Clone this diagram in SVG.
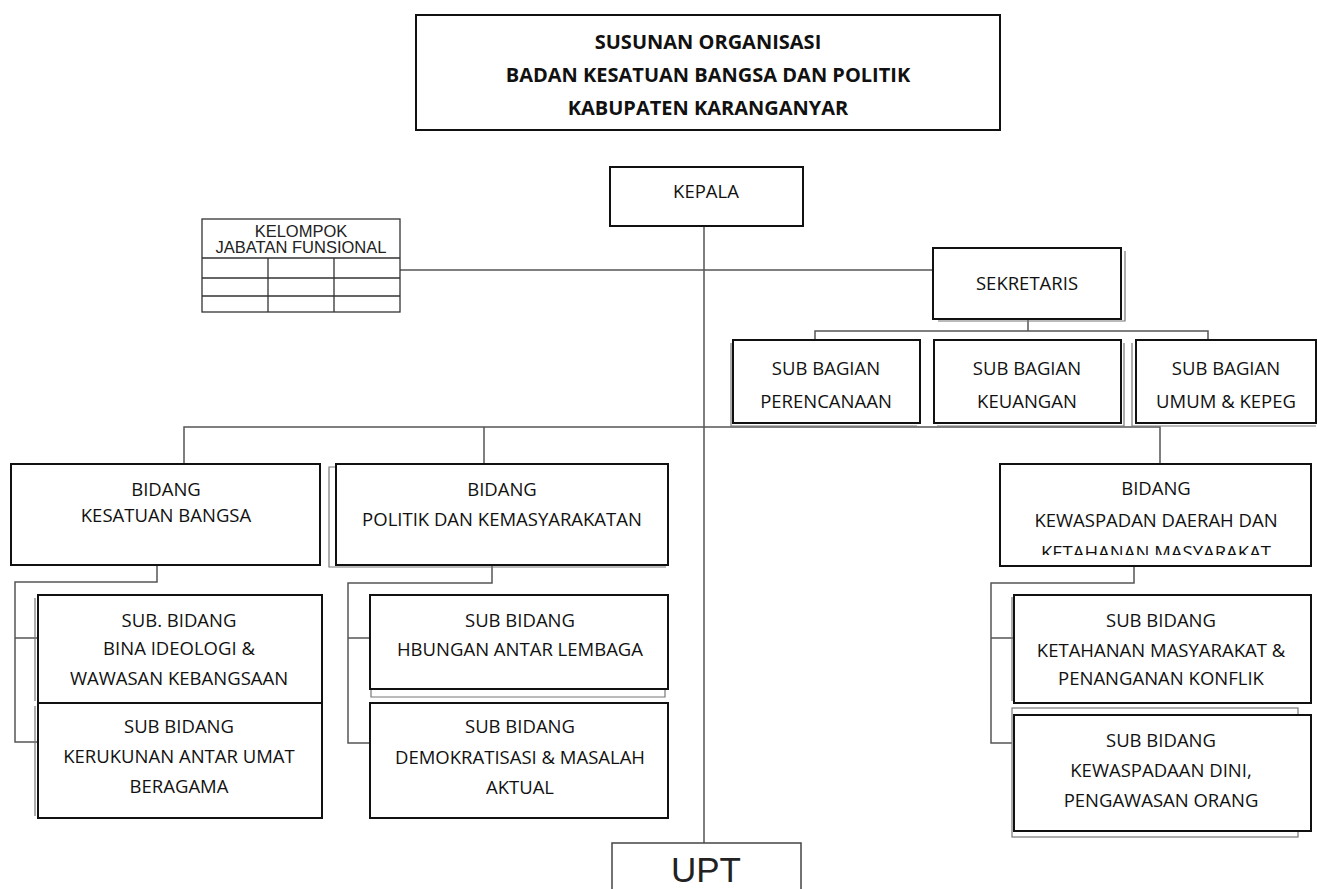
<svg xmlns="http://www.w3.org/2000/svg" width="1317" height="889" viewBox="0 0 1317 889">
<style>
.box{fill:#fff;stroke:#111;stroke-width:2}
.sh{fill:none;stroke:#777;stroke-width:1.2}
.ln{fill:none;stroke:#555;stroke-width:1.5}
.t{font-family:"Open Sans","Liberation Sans",sans-serif;font-size:18.5px;fill:#111;text-anchor:middle}
.tb{font-family:"Open Sans","Liberation Sans",sans-serif;font-size:20px;font-weight:bold;fill:#111;text-anchor:middle}
.ta{font-family:"Liberation Sans",Arial,sans-serif;fill:#222;text-anchor:middle}
</style>
<defs>
<clipPath id="clipK"><rect x="1000" y="465" width="311" height="90"/></clipPath>
</defs>
<rect width="1317" height="889" fill="#fff"/>
<g id="connectors">
<path class="ln" d="M704 226V843"/>
<path class="ln" d="M400 270H933"/>
<path class="ln" d="M1028 319V331M815 340V331H1208V340"/>
<path class="ln" d="M184 464V427H1160V464M484 427V464"/>
<path class="ln" d="M157 565V582H15V742H37M15 638H37"/>
<path class="ln" d="M492 565V583H348V743H370M348 638H370"/>
<path class="ln" d="M1134 566V583H991V743H1013M991 638H1013"/>
</g>
<g id="title">
<rect class="box" x="416" y="15" width="584" height="115"/>
<text class="tb" x="708" y="49">SUSUNAN ORGANISASI</text>
<text class="tb" x="708" y="82">BADAN KESATUAN BANGSA DAN POLITIK</text>
<text class="tb" x="708" y="115">KABUPATEN KARANGANYAR</text>
</g>
<g id="kepala">
<rect class="box" x="610" y="167" width="193" height="59"/>
<text class="t" x="706" y="198">KEPALA</text>
</g>
<g id="kelompok">
<rect x="202" y="219" width="198" height="93" fill="#fff" stroke="#333" stroke-width="1.3"/>
<path d="M202 258H400M202 278H400M202 296H400M268 258V312M334 258V312" stroke="#333" stroke-width="1.3" fill="none"/>
<text class="ta" x="301" y="237" font-size="16.5">KELOMPOK</text>
<text class="ta" x="301" y="253" font-size="16.5">JABATAN FUNSIONAL</text>
</g>
<g id="sekretaris">
<path class="sh" d="M1125 251V321H938"/>
<rect class="box" x="933" y="248" width="188" height="71"/>
<text class="t" x="1027" y="290">SEKRETARIS</text>
</g>
<g id="sub-perencanaan">
<path class="sh" d="M731 343V426H917"/>
<rect class="box" x="733" y="340" width="187" height="83"/>
<text class="t" x="826" y="375">SUB BAGIAN</text>
<text class="t" x="826" y="408">PERENCANAAN</text>
</g>
<g id="sub-keuangan">
<path class="sh" d="M1124 343V426H937"/>
<rect class="box" x="934" y="340" width="187" height="83"/>
<text class="t" x="1027" y="375">SUB BAGIAN</text>
<text class="t" x="1027" y="408">KEUANGAN</text>
</g>
<g id="sub-umum">
<path class="sh" d="M1132 343V426H1316"/>
<rect class="box" x="1136" y="340" width="180" height="83"/>
<text class="t" x="1226" y="375">SUB BAGIAN</text>
<text class="t" x="1226" y="408">UMUM &amp; KEPEG</text>
</g>
<g id="bidang-kesbang">
<rect class="box" x="11" y="464" width="309" height="101"/>
<text class="t" x="166" y="496">BIDANG</text>
<text class="t" x="166" y="522">KESATUAN BANGSA</text>
</g>
<g id="bidang-politik">
<path class="sh" d="M336 467H329V567H666"/>
<rect class="box" x="336" y="464" width="332" height="101"/>
<text class="t" x="502" y="496">BIDANG</text>
<text class="t" x="502" y="526">POLITIK DAN KEMASYARAKATAN</text>
</g>
<g id="bidang-kewaspadan">
<rect class="box" x="1000" y="464" width="311" height="102"/>
<text class="t" x="1156" y="495">BIDANG</text>
<text class="t" x="1156" y="527">KEWASPADAN DAERAH DAN</text>
<text class="t" x="1156" y="559" clip-path="url(#clipK)">KETAHANAN MASYARAKAT</text>
</g>
<g id="sub-ideologi">
<path class="sh" d="M35 598V701"/>
<rect class="box" x="38" y="595" width="284" height="108"/>
<text class="t" x="179" y="627">SUB. BIDANG</text>
<text class="t" x="179" y="655">BINA IDEOLOGI &amp;</text>
<text class="t" x="179" y="685">WAWASAN KEBANGSAAN</text>
</g>
<g id="sub-kerukunan">
<path class="sh" d="M35 706V816"/>
<rect class="box" x="38" y="703" width="284" height="115"/>
<text class="t" x="179" y="733">SUB BIDANG</text>
<text class="t" x="179" y="763">KERUKUNAN ANTAR UMAT</text>
<text class="t" x="179" y="793">BERAGAMA</text>
</g>
<g id="sub-hubungan">
<path class="sh" d="M371 690V697H665V690"/>
<rect class="box" x="370" y="595" width="298" height="94"/>
<text class="t" x="520" y="627">SUB BIDANG</text>
<text class="t" x="520" y="656">HBUNGAN ANTAR LEMBAGA</text>
</g>
<g id="sub-demokratisasi">
<rect class="box" x="370" y="703" width="298" height="115"/>
<text class="t" x="520" y="733">SUB BIDANG</text>
<text class="t" x="520" y="764">DEMOKRATISASI &amp; MASALAH</text>
<text class="t" x="520" y="794">AKTUAL</text>
</g>
<g id="sub-ketahanan">
<path class="sh" d="M1012 597V701"/>
<rect class="box" x="1014" y="595" width="297" height="108"/>
<text class="t" x="1161" y="627">SUB BIDANG</text>
<text class="t" x="1161" y="657">KETAHANAN MASYARAKAT &amp;</text>
<text class="t" x="1161" y="685">PENANGANAN KONFLIK</text>
</g>
<g id="sub-kewaspadaan">
<rect x="1012" y="708" width="286" height="129" fill="#fff" stroke="#777" stroke-width="1.2"/>
<rect class="box" x="1014" y="715" width="297" height="116"/>
<text class="t" x="1161" y="747">SUB BIDANG</text>
<text class="t" x="1161" y="777">KEWASPADAAN DINI,</text>
<text class="t" x="1161" y="807">PENGAWASAN ORANG</text>
</g>
<g id="upt">
<rect x="612" y="843" width="189" height="60" fill="#fff" stroke="#444" stroke-width="1.5"/>
<text class="ta" x="706" y="882" font-size="35">UPT</text>
</g>
</svg>
